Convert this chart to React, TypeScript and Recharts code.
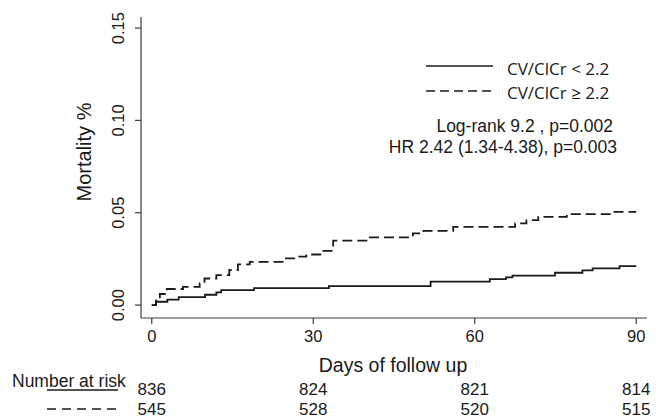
import { LineChart, Line, XAxis, YAxis, Legend } from 'recharts';

// Kaplan-Meier style cumulative mortality
const lowDays = [0, 0.8, 2.9, 5.0, 9.9, 12.0, 12.9, 19.0, 32.9, 51.8, 62.8, 65.8, 67.0, 74.9, 80.0, 81.9, 86.9, 90];
const lowMortality = [0, 0.0018, 0.003, 0.0043, 0.0056, 0.0069, 0.0081, 0.0092, 0.0103, 0.0127, 0.014, 0.015, 0.016, 0.0175, 0.0188, 0.0199, 0.0211, 0.0211];

const highDays = [0, 0.8, 1.5, 2.8, 5.8, 8.9, 9.8, 12.0, 14.4, 16.0, 18.2, 24.6, 26.5, 28.7, 31.5, 33.7, 40.2, 48.5, 50.5, 56.0, 67.5, 69.6, 71.8, 77.1, 85.7, 90];
const highMortality = [0, 0.0035, 0.006, 0.0087, 0.0099, 0.0117, 0.0144, 0.0162, 0.019, 0.022, 0.0234, 0.0253, 0.0262, 0.0274, 0.0294, 0.0349, 0.0367, 0.0388, 0.0402, 0.0424, 0.0442, 0.046, 0.0478, 0.0493, 0.0505, 0.0505];

const xTicks = [0, 30, 60, 90];
const yTicks = [0, 0.05, 0.1, 0.15];
const riskLow = [836, 824, 821, 814];
const riskHigh = [545, 528, 520, 515];

const lowData = lowDays.map((d, i) => ({ day: d, mortality: lowMortality[i] }));
const highData = highDays.map((d, i) => ({ day: d, mortality: highMortality[i] }));

const FONT = '"Liberation Sans", Arial, Helvetica, sans-serif';
const INK = '#1a1a1a';
const AXIS = '#3c3c3c';

function YTick(props: any) {
  const { x, y, payload } = props;
  const cx = x - 15;
  return (
    <text
      x={cx}
      y={y}
      transform={`rotate(-90, ${cx}, ${y})`}
      textAnchor="middle"
      dominantBaseline="central"
      fontFamily={FONT}
      fontSize={16.5}
      fill={INK}
    >
      {payload.value.toFixed(2)}
    </text>
  );
}

function XTick(props: any) {
  const { x, y, payload, index } = props;
  return (
    <g fontFamily={FONT} fill={INK}>
      <text x={x} y={y + 16} textAnchor="middle" fontSize={16.5} fill={INK}>
        {payload.value}
      </text>
      <text x={x} y={y + 69} textAnchor="middle" fontSize={17} fill={INK}>
        {riskLow[index]}
      </text>
      <text x={x} y={y + 89} textAnchor="middle" fontSize={17} fill={INK}>
        {riskHigh[index]}
      </text>
      {index === 0 && (
        <g>
          <text x={12} y={y + 61} fontSize={17.5} fill={INK}>
            Number at risk
          </text>
          <line x1={47} x2={118} y1={y + 64} y2={y + 64} stroke={INK} strokeWidth={1.5} />
          <line
            x1={47}
            x2={118}
            y1={y + 83}
            y2={y + 83}
            stroke={INK}
            strokeWidth={1.5}
            strokeDasharray="9 6"
          />
        </g>
      )}
    </g>
  );
}

// legend box sits at left 370, top 50 of the chart
function LegendBox() {
  return (
    <svg width={280} height={110} style={{ display: 'block' }}>
      <line x1={56} x2={123} y1={16} y2={16} stroke={INK} strokeWidth={1.6} />
      <text x={137} y={18} dominantBaseline="central" fontFamily='"Open Sans", sans-serif' fontSize={17} fill={INK}>
        CV/ClCr &lt; 2.2
      </text>
      <line x1={56} x2={123} y1={41} y2={41} stroke={INK} strokeWidth={1.6} strokeDasharray="9 5" />
      <text x={137} y={42} dominantBaseline="central" fontFamily='"Open Sans", sans-serif' fontSize={17} fill={INK}>
        CV/ClCr ≥ 2.2
      </text>
      <text x={243} y={76} textAnchor="end" dominantBaseline="central" fontFamily={FONT} fontSize={17.5} fill={INK}>
        Log-rank 9.2 , p=0.002
      </text>
      <text x={247} y={97} textAnchor="end" dominantBaseline="central" fontFamily={FONT} fontSize={17.5} fill={INK}>
        HR 2.42 (1.34-4.38), p=0.003
      </text>
    </svg>
  );
}

export default function App() {
  return (
    <div style={{ position: 'absolute', left: 0, top: 0, background: '#fff' }}>
      <LineChart width={656} height={418} margin={{ top: 17, right: 9, left: 0, bottom: 0 }}>
        <XAxis
          dataKey="day"
          type="number"
          domain={[-2, 92]}
          allowDataOverflow
          ticks={xTicks}
          height={100}
          stroke={AXIS}
          strokeWidth={1.2}
          tickSize={6}
          tick={<XTick />}
          label={({ viewBox }: any) => (
            <text
              x={viewBox.x + viewBox.width / 2 - 1}
              y={viewBox.y + 54}
              textAnchor="middle"
              fontFamily={FONT}
              fontSize={19.5}
              fill={INK}
            >
              Days of follow up
            </text>
          )}
        />
        <YAxis
          type="number"
          domain={[-0.007, 0.156]}
          allowDataOverflow
          ticks={yTicks}
          width={141}
          stroke={AXIS}
          strokeWidth={1.2}
          tickSize={6}
          tick={<YTick />}
          label={() => (
            <text
              x={84}
              y={152}
              transform="rotate(-90, 84, 152)"
              textAnchor="middle"
              dominantBaseline="central"
              fontFamily={FONT}
              fontSize={20}
              fill={INK}
            >
              Mortality %
            </text>
          )}
        />
        <Legend
          layout="vertical"
          align="center"
          verticalAlign="middle"
          wrapperStyle={{ position: 'absolute', left: 370, top: 50, width: 280, height: 110 }}
          content={() => <LegendBox />}
        />
        <Line
          data={lowData}
          dataKey="mortality"
          type="stepAfter"
          stroke={INK}
          strokeWidth={1.8}
          dot={false}
          activeDot={false}
          isAnimationActive={false}
        />
        <Line
          data={highData}
          dataKey="mortality"
          type="stepAfter"
          stroke={INK}
          strokeWidth={1.8}
          strokeDasharray="10 5"
          dot={false}
          activeDot={false}
          isAnimationActive={false}
        />
      </LineChart>
    </div>
  );
}
